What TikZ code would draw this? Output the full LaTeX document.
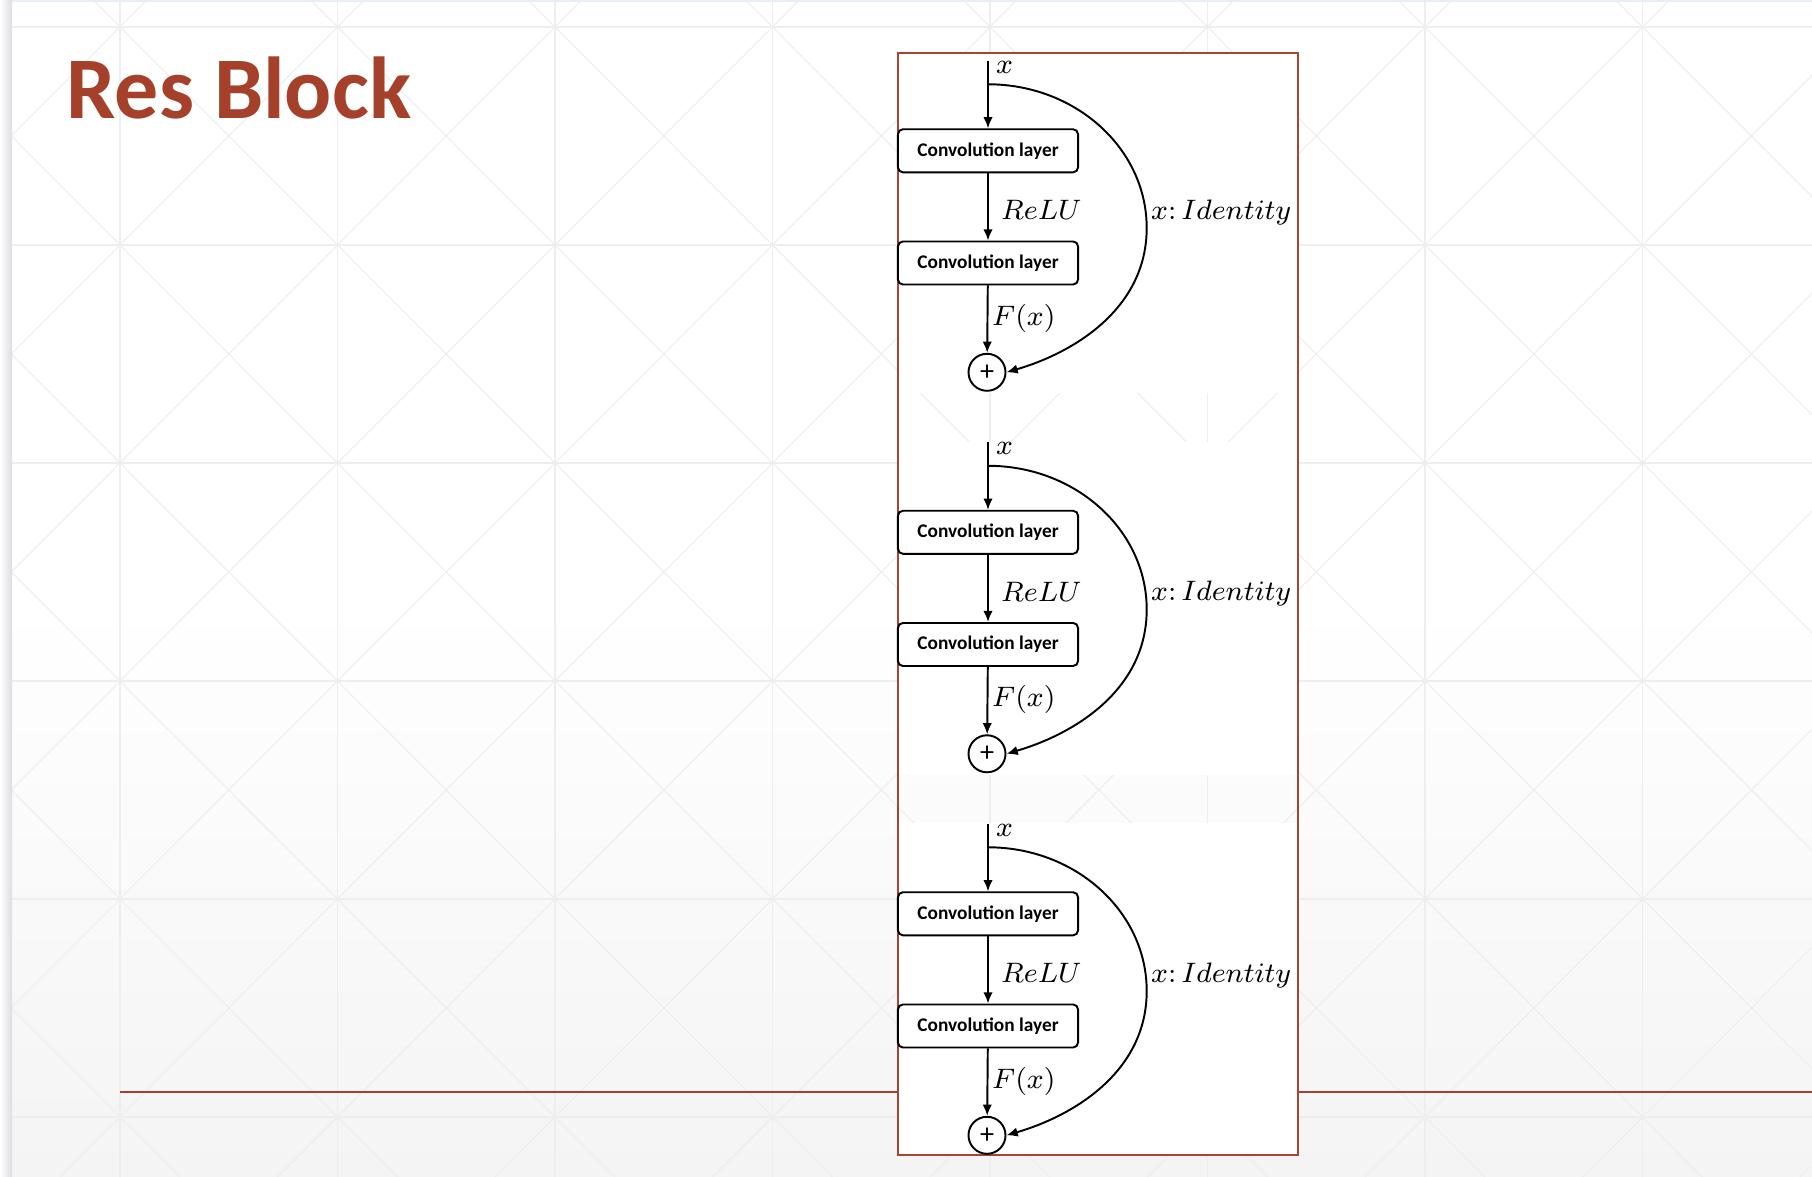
\documentclass[tikz,border=0pt]{standalone}
\usepackage{fontspec}
\setmainfont{Carlito}
\usetikzlibrary{arrows.meta}

\definecolor{slidered}{HTML}{A5402A}
\definecolor{framered}{HTML}{A84532}
\definecolor{gridgray}{HTML}{EEEEEE}
\definecolor{bgbottom}{HTML}{F4F4F4}
\definecolor{barblue}{HTML}{E8EEF7}
\definecolor{bargray}{HTML}{DCDDE1}

\begin{document}
\begin{tikzpicture}[x=0.01cm, y=-0.01cm,
  box/.style={draw=black, rounded corners=1.4pt, fill=white, line width=0.55pt, minimum width=1.8cm, minimum height=0.43cm, inner sep=0pt, font=\fontsize{5.5}{6}\selectfont\bfseries},
  sum/.style={draw=black, circle, line width=0.55pt, minimum size=0.37cm, inner sep=0pt, font=\fontsize{8}{8}\selectfont},
  arrow/.style={-{Latex[length=3.2pt, width=2.7pt]}, draw=black, line width=0.55pt},
  mathlabel/.style={inner sep=1pt, font=\fontsize{8.5}{10}\selectfont},
  title/.style={inner sep=0pt, text=slidered, font=\fontsize{25}{30}\selectfont\bfseries}
]
\useasboundingbox (0,0) rectangle (1812,1177);
% slide background
\fill[white] (0,0) rectangle (1812,1177);
\shade[top color=white, bottom color=bgbottom] (0,600) rectangle (1812,1177);
\begin{scope}
  \clip (12,2) rectangle (1812,1177);
  \foreach \gx in {-97.5,120,...,1860} \draw[gridgray, line width=0.3pt] (\gx,0) -- (\gx,1177);
  \foreach \gy in {27,245,...,1117} \draw[gridgray, line width=0.3pt] (0,\gy) -- (1812,\gy);
  \foreach \gx in {-97.5,120,...,1642.5}
    \foreach \gy in {-191,27,...,1117} {
      \draw[gridgray, line width=0.3pt] (\gx,\gy) -- ++(217.5,218);
      \draw[gridgray, line width=0.3pt] (\gx+217.5,\gy) -- ++(-217.5,218);
    }
\end{scope}
\fill[barblue] (0,0) rectangle (1812,2);
\shade[left color=white, right color=bargray] (0,0) rectangle (12,1177);
\draw[slidered, line width=0.75pt] (120,1092) -- (1812,1092);
% title
\node[title, anchor=base west] (title) at (66,118.3) {Res Block};
% figure panels
\fill[white] (898,53) rectangle (1297,392.7);
\fill[white] (898,441.7) rectangle (1297,775);
\fill[white] (898,822.7) rectangle (1297,1155);
\draw[framered, line width=0.6pt] (897.7,52.7) rectangle (1297.7,1155);
% three residual blocks
\foreach \i/\dy in {1/0, 2/381.5, 3/763} {
  \coordinate (in\i) at (988,60.7+\dy);
  \coordinate (split\i) at (988,84.3+\dy);
  \node[box] (convA\i) at (988,150.8+\dy) {Convolution layer};
  \node[box] (convB\i) at (988,263+\dy) {Convolution layer};
  \node[sum] (add\i) at (987,372.3+\dy) {+};
  \draw[arrow] (in\i) -- (convA\i);
  \draw[arrow] (convA\i) -- (convB\i);
  \draw[arrow] (convB\i) -- (add\i);
  \draw[arrow] (split\i) .. controls (1075.6,84.3+\dy) and (1146.7,148.6+\dy) .. (1146.7,228+\dy)
    .. controls (1146.7,307.4+\dy) and (1076,352+\dy) .. (add\i.east);
  \node[mathlabel, anchor=west] (xin\i) at (992,67+\dy) {$x$};
  \node[mathlabel, anchor=west] (relu\i) at (997,210+\dy) {$ReLU$};
  \node[mathlabel, anchor=west] (fx\i) at (988,318+\dy) {$F(x)$};
  \node[mathlabel, anchor=west] (ident\i) at (1147,212+\dy) {$x{:}\,Identity$};
}
\end{tikzpicture}
\end{document}
